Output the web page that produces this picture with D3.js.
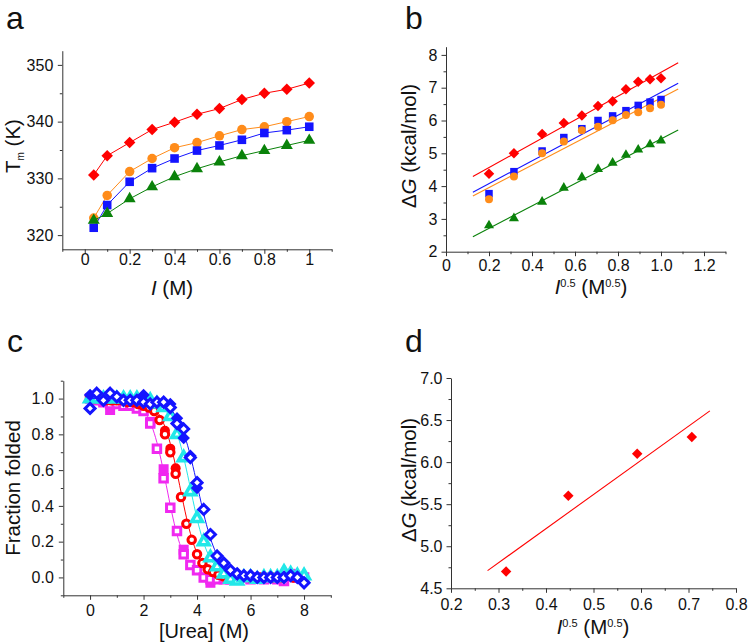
<!DOCTYPE html>
<html><head><meta charset="utf-8">
<script src="https://cdn.jsdelivr.net/npm/d3@7"></script>
<style>
body{margin:0;background:#fff}
svg{display:block}
text{font-family:"Liberation Sans",Arial,Helvetica,sans-serif;fill:#111}
</style>
</head><body>
<svg id="chart" width="750" height="643"></svg>
<script>
// ---------- Panel a: Tm vs ionic strength ----------
const aIonic = [0.04,0.1,0.2,0.3,0.4,0.5,0.6,0.7,0.8,0.9,1.0];
const aRed    = [330.6,334.0,336.3,338.6,339.9,341.3,342.3,343.9,345.0,345.7,346.8];
const aOrange = [323.0,327.0,331.2,333.5,335.4,336.3,337.5,338.6,339.1,340.0,340.9];
const aBlue   = [321.3,325.3,329.4,331.8,333.5,334.9,335.8,336.8,338.0,338.5,339.1];
const aGreen  = [322.6,323.8,326.4,328.5,330.3,331.7,332.9,334.0,334.9,335.8,336.7];
const aXTicks = [0,0.2,0.4,0.6,0.8,1];
const aYTicks = [320,330,340,350];

// ---------- Panel b: dG vs sqrt(I) ----------
const bSqrtI  = [0.2,0.316,0.447,0.548,0.632,0.707,0.775,0.837,0.894,0.949,1.0];
const bRed    = [4.38,5.00,5.59,5.92,6.15,6.44,6.59,6.95,7.18,7.26,7.29];
const bBlue   = [3.77,4.44,5.07,5.48,5.75,6.00,6.14,6.30,6.46,6.56,6.64];
const bOrange = [3.60,4.29,5.00,5.36,5.70,5.81,6.01,6.17,6.25,6.37,6.48];
const bGreen  = [2.80,3.02,3.52,3.95,4.27,4.52,4.71,4.95,5.11,5.27,5.39];
// linear fits: [slope, intercept]
const bFitRed = [3.63,3.84], bFitBlue = [3.48,3.38], bFitOrange = [3.42,3.27], bFitGreen = [3.41,2.03];
const bFitRange = [0.125,1.08];
const bXTicks = [0,0.2,0.4,0.6,0.8,1.0,1.2];
const bYTicks = [2,3,4,5,6,7,8];

// ---------- Panel c: urea denaturation ----------
const cMagentaOpen = [[0,1.0],[0.25,0.99],[0.5,0.98],[0.75,0.97],[1.0,0.97],[1.25,0.96],[1.5,0.96],[1.75,0.945],[2.0,0.93],[2.25,0.86],[2.5,0.72],[2.75,0.555],[3.0,0.39],[3.25,0.26],[3.5,0.13],[3.75,0.07],[4.0,0.04],[4.25,0.0],[4.5,-0.01],[4.75,-0.01],[5.0,-0.01],[5.25,-0.01],[5.5,-0.01],[5.75,0.0],[6.0,-0.01],[6.25,0.0],[6.5,-0.01],[6.75,0.0],[7.0,-0.01],[7.25,-0.02],[7.5,0.01],[7.75,0.0],[8.0,0.0]];
const cMagentaFill = [[0.75,0.936],[2.25,0.87],[2.75,0.605],[3.5,0.155],[4.5,-0.03],[7.5,0.02]];
const cRedOpen = [[0,1.01],[0.2,1.0],[0.4,1.0],[0.6,0.99],[0.8,0.99],[1.0,0.99],[1.2,0.99],[1.4,0.98],[1.6,0.98],[1.8,0.97],[2.0,0.96],[2.2,0.95],[2.4,0.93],[2.6,0.88],[2.8,0.80],[3.0,0.70],[3.2,0.58],[3.4,0.45],[3.6,0.30],[3.8,0.21],[4.0,0.13],[4.2,0.08],[4.4,0.045],[4.6,0.03],[4.8,0.015],[5.0,0.005],[5.2,0.0],[5.6,0.0],[6.0,0.0],[6.4,0.0],[6.8,0.0],[7.2,0.0],[7.6,0.0],[8.0,0.0]];
const cRedFill = [[2.8,0.82],[3.0,0.72],[3.2,0.61]];
const cCyan = [[0,1.0],[0.25,1.0],[0.5,1.0],[0.75,1.0],[1.0,1.0],[1.25,1.0],[1.5,1.0],[1.75,1.0],[2.0,0.99],[2.25,0.99],[2.5,0.97],[2.75,0.95],[3.0,0.90],[3.25,0.80],[3.5,0.67],[3.75,0.48],[4.0,0.33],[4.25,0.20],[4.5,0.11],[4.75,0.06],[5.0,0.02],[5.25,-0.01],[5.5,-0.02],[5.75,0.0],[6.0,0.0],[6.25,-0.01],[6.5,0.0],[6.75,0.0],[7.0,0.0],[7.25,0.03],[7.5,0.02],[7.75,0.01],[8.0,0.01]];
const cBlueOpen = [[0,0.945],[0.25,1.03],[0.5,0.99],[0.75,1.03],[1.0,1.01],[1.25,0.99],[1.5,0.99],[1.75,0.99],[2.0,0.98],[2.25,0.97],[2.5,0.98],[2.75,0.98],[3.0,0.95],[3.25,0.86],[3.5,0.83],[3.75,0.67],[4.0,0.53],[4.25,0.38],[4.5,0.24],[4.75,0.12],[5.0,0.08],[5.25,0.04],[5.5,0.02],[5.75,0.01],[6.0,0.01],[6.25,0.0],[6.5,0.0],[6.75,0.0],[7.0,0.0],[7.25,0.0],[7.5,0.01],[7.75,0.0],[8.0,-0.03]];
const cBlueFill = [[0,1.02],[2.0,1.02],[3.0,0.97],[3.25,0.89],[3.5,0.78],[3.75,0.68],[4.0,0.50]];
// two-state sigmoid fits: [Cm, width]
const cFitMagenta = [2.87,0.33], cFitRed = [3.37,0.34], cFitCyan = [3.75,0.35], cFitBlue = [4.03,0.37];
const cXTicks = [0,2,4,6,8];
const cYTicks = [0,0.2,0.4,0.6,0.8,1.0];

// ---------- Panel d ----------
const dSqrtI = [0.316,0.447,0.592,0.707];
const dDG    = [4.70,5.60,6.10,6.30];
const dFit = [4.06,3.585];
const dFitRange = [0.277,0.745];
const dXTicks = [0.2,0.3,0.4,0.5,0.6,0.7,0.8];
const dYTicks = [4.5,5.0,5.5,6.0,6.5,7.0];

const COL = {red:"#ff0000", orange:"#ff8c1a", blue:"#1414ff", green:"#0a820a", cyan:"#22e8e8", magenta:"#f028f0"};

const svg = d3.select("#chart");

function shapePath(shape, s){
  const h = s/2;
  if(shape==="square") return `M${-h},${-h}H${h}V${h}H${-h}Z`;
  if(shape==="diamond") return `M0,${-h}L${h},0L0,${h}L${-h},0Z`;
  if(shape==="triangle"){ const r=s/Math.sqrt(3); return `M0,${-r}L${s/2},${r/2}L${-s/2},${r/2}Z`; }
  if(shape==="circle") return `M${h},0A${h},${h} 0 1,1 ${-h},0A${h},${h} 0 1,1 ${h},0Z`;
}
function drawMarkers(g, pts, sx, sy, shape, size, fill, stroke, sw){
  g.append("g").selectAll("path").data(pts).join("path")
    .attr("d", shapePath(shape,size))
    .attr("transform", d=>`translate(${sx(d[0])},${sy(d[1])})`)
    .attr("fill", fill).attr("stroke", stroke||"none").attr("stroke-width", sw||0);
}
function drawAxes(sx, sy, xMaj, xMin, yMaj, yMin, xFmt, yFmt, xPad, yPad){
  const y0 = sy.range()[0], x0 = sx.range()[0];
  const gx = svg.append("g").attr("transform",`translate(0,${y0})`);
  gx.call(d3.axisBottom(sx).tickValues(xMin).tickSize(2.5).tickFormat("").tickSizeOuter(0));
  gx.select(".domain").remove();
  const gx2 = svg.append("g").attr("transform",`translate(0,${y0})`);
  gx2.call(d3.axisBottom(sx).tickValues(xMaj).tickSize(4.5).tickPadding(xPad).tickFormat(xFmt).tickSizeOuter(0));
  const gy = svg.append("g").attr("transform",`translate(${x0},0)`);
  gy.call(d3.axisLeft(sy).tickValues(yMin).tickSize(2.5).tickFormat("").tickSizeOuter(0));
  gy.select(".domain").remove();
  const gy2 = svg.append("g").attr("transform",`translate(${x0},0)`);
  gy2.call(d3.axisLeft(sy).tickValues(yMaj).tickSize(4.5).tickPadding(yPad).tickFormat(yFmt).tickSizeOuter(0));
  svg.selectAll(".tick line, .domain").attr("stroke","#333").attr("stroke-width",1);
  [gx2,gy2].forEach(g=>g.selectAll("text").style("font-size","16px").attr("fill","#111")
     .style("font-family","'Liberation Sans',Arial,sans-serif"));
}
function panelLabel(t,x,y){ svg.append("text").attr("x",x).attr("y",y).style("font-size","32px").text(t); }
function lineThrough(g, xs, ys, sx, sy, color){
  g.append("path").datum(xs.map((x,i)=>[x,ys[i]]))
   .attr("d", d3.line().x(d=>sx(d[0])).y(d=>sy(d[1])))
   .attr("fill","none").attr("stroke",color).attr("stroke-width",1);
}
function powerTitle(x,y){
  const t = svg.append("text").attr("x",x).attr("y",y).attr("text-anchor","middle").style("font-size","20.5px");
  t.append("tspan").style("font-style","italic").text("I");
  t.append("tspan").attr("dy",-7).style("font-size","11px").text("0.5");
  t.append("tspan").attr("dy",7).text(" (M");
  t.append("tspan").attr("dy",-7).style("font-size","11px").text("0.5");
  t.append("tspan").attr("dy",7).text(")");
}
function dGTitle(x,y){
  const ty = svg.append("text").attr("transform",`translate(${x},${y}) rotate(-90)`).attr("text-anchor","middle").style("font-size","20.5px");
  ty.append("tspan").text("\u0394");
  ty.append("tspan").style("font-style","italic").text("G");
  ty.append("tspan").text(" (kcal/mol)");
}
const f1 = d3.format(".1f");

// ===== Panel a =====
{
  const sx = d3.scaleLinear().domain([-0.1,1.1]).range([62.3,331.7]);
  const sy = d3.scaleLinear().domain([317.5,352.5]).range([249.3,50.7]);
  drawAxes(sx, sy, aXTicks, [-0.1,0.1,0.3,0.5,0.7,0.9,1.1], aYTicks, [325,335,345], d=>d3.format("~g")(d), d=>d, -0.5, 4.5);
  const g = svg.append("g");
  const series = [[aRed,COL.red,"diamond",11.5],[aOrange,COL.orange,"circle",9.5],[aBlue,COL.blue,"square",8.6],[aGreen,COL.green,"triangle",12]];
  series.forEach(([ys,c,shape,s])=>{
    lineThrough(g, aIonic, ys, sx, sy, c);
    drawMarkers(g, aIonic.map((x,i)=>[x,ys[i]]), sx, sy, shape, s, c);
  });
  panelLabel("a",6,29);
  const t = svg.append("text").attr("x",172).attr("y",295).attr("text-anchor","middle").style("font-size","20.5px");
  t.append("tspan").style("font-style","italic").text("I");
  t.append("tspan").text(" (M)");
  const ty = svg.append("text").attr("transform","translate(20,146) rotate(-90)").attr("text-anchor","middle").style("font-size","20.5px");
  ty.append("tspan").text("T");
  ty.append("tspan").attr("dy",4).style("font-size","10px").text("m");
  ty.append("tspan").attr("dy",-4).text(" (K)");
}

// ===== Panel b =====
{
  const sx = d3.scaleLinear().domain([0,1.3]).range([446,725.5]);
  const sy = d3.scaleLinear().domain([2,8.25]).range([251.7,46.7]);
  drawAxes(sx, sy, bXTicks, [0.1,0.3,0.5,0.7,0.9,1.1,1.3], bYTicks, [2.5,3.5,4.5,5.5,6.5,7.5], d=>d===0?"0":f1(d), d=>d, 3.5, 4);
  const g = svg.append("g");
  [[bFitRed,COL.red],[bFitBlue,COL.blue],[bFitOrange,COL.orange],[bFitGreen,COL.green]].forEach(([p,c])=>{
    g.append("line").attr("x1",sx(bFitRange[0])).attr("x2",sx(bFitRange[1]))
     .attr("y1",sy(p[0]*bFitRange[0]+p[1])).attr("y2",sy(p[0]*bFitRange[1]+p[1]))
     .attr("stroke",c).attr("stroke-width",1.1);
  });
  const pts = ys=>bSqrtI.map((x,i)=>[x,ys[i]]);
  drawMarkers(g, pts(bRed), sx, sy, "diamond", 10.5, COL.red);
  drawMarkers(g, pts(bBlue), sx, sy, "square", 7.5, COL.blue);
  drawMarkers(g, pts(bOrange), sx, sy, "circle", 8, COL.orange);
  drawMarkers(g, pts(bGreen), sx, sy, "triangle", 10, COL.green);
  panelLabel("b",405,29);
  powerTitle(591,294);
  dGTitle(416,146);
}

// ===== Panel c =====
{
  const sx = d3.scaleLinear().domain([-1,9]).range([63.3,330.8]);
  const sy = d3.scaleLinear().domain([-0.1,1.1]).range([595.3,380.7]);
  drawAxes(sx, sy, cXTicks, [-1,1,3,5,7,9], cYTicks, [-0.1,0.1,0.3,0.5,0.7,0.9,1.1], d=>d, d=>f1(d), 4.5, 5);
  const g = svg.append("g");
  const curve = (p)=>d3.range(0,8.001,0.05).map(x=>[x, 1/(1+Math.exp((x-p[0])/p[1]))]);
  const drawFit = (p,c)=>g.append("path").datum(curve(p)).attr("d", d3.line().x(d=>sx(d[0])).y(d=>sy(d[1])))
      .attr("fill","none").attr("stroke",c).attr("stroke-width",1);
  drawFit(cFitMagenta, COL.magenta);
  drawMarkers(g, cMagentaFill, sx, sy, "square", 10, COL.magenta);
  drawMarkers(g, cMagentaOpen, sx, sy, "square", 7.5, "#fff", COL.magenta, 3);
  drawFit(cFitRed, COL.red);
  drawMarkers(g, cRedFill, sx, sy, "circle", 10, COL.red);
  drawMarkers(g, cRedOpen, sx, sy, "circle", 7.5, "#fff", COL.red, 3);
  drawFit(cFitCyan, COL.cyan);
  drawMarkers(g, cCyan, sx, sy, "triangle", 10.5, "#fff", COL.cyan, 3.6);
  drawFit(cFitBlue, COL.blue);
  drawMarkers(g, cBlueFill, sx, sy, "diamond", 12.5, COL.blue);
  drawMarkers(g, cBlueOpen, sx, sy, "diamond", 10, "#fff", COL.blue, 3);
  panelLabel("c",7,352);
  svg.append("text").attr("x",204).attr("y",637.5).attr("text-anchor","middle").style("font-size","20px").text("[Urea] (M)");
  svg.append("text").attr("transform","translate(20,488) rotate(-90)").attr("text-anchor","middle").style("font-size","20.5px").text("Fraction folded");
}

// ===== Panel d =====
{
  const sx = d3.scaleLinear().domain([0.2,0.8]).range([451,736]);
  const sy = d3.scaleLinear().domain([4.5,7.0]).range([588.3,378]);
  drawAxes(sx, sy, dXTicks, [0.25,0.35,0.45,0.55,0.65,0.75], dYTicks, [4.75,5.25,5.75,6.25,6.75], d=>f1(d), d=>f1(d), 6, 4);
  const g = svg.append("g");
  g.append("line").attr("x1",sx(dFitRange[0])).attr("x2",sx(dFitRange[1]))
   .attr("y1",sy(dFit[0]*dFitRange[0]+dFit[1])).attr("y2",sy(dFit[0]*dFitRange[1]+dFit[1]))
   .attr("stroke",COL.red).attr("stroke-width",1.1);
  drawMarkers(g, dSqrtI.map((x,i)=>[x,dDG[i]]), sx, sy, "diamond", 10.5, COL.red);
  panelLabel("d",405,352);
  powerTitle(593,634);
  dGTitle(416,480);
}
</script>
</body></html>
